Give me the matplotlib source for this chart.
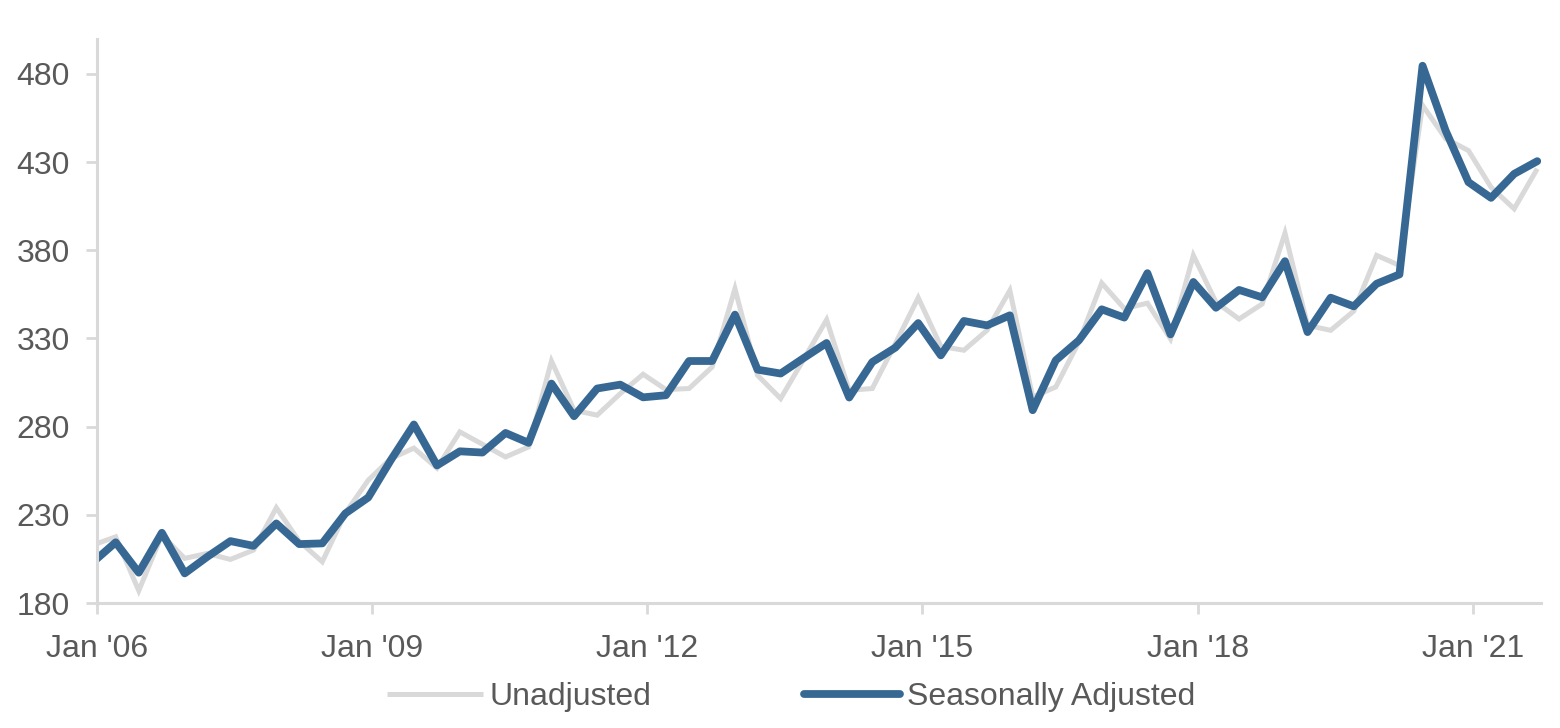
import matplotlib
matplotlib.use("Agg")
import matplotlib.pyplot as plt
import pandas as pd

plt.rcParams['font.family'] = ['Liberation Sans Narrow', 'Liberation Sans', 'DejaVu Sans']

# Quarterly observations (mid-month of the last month of each quarter), Dec 2005 .. Sep 2021
dates = pd.date_range('2005-12-01', periods=64, freq='3MS') + pd.Timedelta(days=14)

unadjusted = [
    212.9, 217.5, 187.0, 218.5, 205.3, 208.1, 204.7, 210.0, 234.0, 215.0,
    203.4, 231.0, 249.6, 261.9, 267.8, 256.5, 277.0, 270.0, 262.8, 268.5,
    317.2, 289.3, 286.5, 298.7, 309.7, 301.0, 301.6, 313.8, 358.2, 309.1,
    295.9, 318.2, 340.6, 300.6, 301.6, 327.1, 353.1, 325.5, 323.3, 334.6,
    357.2, 296.8, 302.5, 328.0, 361.4, 346.9, 350.0, 329.8, 377.1, 350.6,
    341.0, 349.5, 389.7, 337.4, 334.6, 345.5, 377.1, 371.4, 462.2, 443.3,
    436.5, 415.7, 403.5, 426.2,
]
seasonally_adjusted = [
    203.2, 214.4, 197.2, 219.8, 196.8, 206.2, 215.1, 212.4, 225.1, 213.4,
    213.8, 230.8, 239.8, 261.0, 281.2, 258.0, 266.0, 265.3, 276.4, 270.8,
    304.4, 285.9, 301.6, 303.8, 296.6, 297.8, 317.2, 317.2, 343.5, 312.3,
    310.1, 318.9, 327.4, 296.5, 316.6, 324.8, 338.7, 320.4, 339.9, 337.4,
    343.1, 289.3, 317.6, 328.9, 346.5, 341.8, 367.0, 332.3, 362.0, 347.4,
    357.5, 353.3, 373.8, 333.6, 353.1, 348.2, 361.0, 366.3, 484.6, 447.8,
    418.6, 409.7, 423.3, 430.5,
]
series_labels = ['Unadjusted', 'Seasonally Adjusted']
y_ticks = [180, 230, 280, 330, 380, 430, 480]
x_tick_years = [2006, 2009, 2012, 2015, 2018, 2021]

text_color = '#595959'
axis_color = '#d9d9d9'
gray = '#d9d9d9'
blue = '#376893'

fig = plt.figure(figsize=(15.6, 7.28), dpi=100)
ax = fig.add_axes([0.0624, 0.1717, 0.9256, 0.7753])

ax.plot(dates, unadjusted, color=gray, lw=3.6, label=series_labels[0],
        solid_joinstyle='miter', solid_capstyle='butt')
ax.plot(dates, seasonally_adjusted, color=blue, lw=5.6, label=series_labels[1],
        solid_joinstyle='round', solid_capstyle='round')

ax.set_xlim(pd.Timestamp('2006-01-01'), pd.Timestamp('2021-10-01'))
ax.set_ylim(180, 500)
ax.set_yticks(y_ticks)
ax.set_yticklabels([str(v) for v in y_ticks])
ax.set_xticks([pd.Timestamp(f'{y}-01-01') for y in x_tick_years])
ax.set_xticklabels([f"Jan '{str(y)[2:]}" for y in x_tick_years])

for s in ['top', 'right']:
    ax.spines[s].set_visible(False)
for s in ['left', 'bottom']:
    ax.spines[s].set_color(axis_color)
    ax.spines[s].set_linewidth(2.2)

ax.tick_params(axis='y', length=8, width=2, color=axis_color, labelsize=23,
               labelcolor=text_color, pad=12)
ax.tick_params(axis='x', length=8, width=2, color=axis_color, labelsize=23,
               labelcolor=text_color, pad=14)

fig.legend(loc='center', bbox_to_anchor=(0.507, 0.043), ncol=2, frameon=False,
           fontsize=23, labelcolor=text_color, handlelength=3.0,
           handletextpad=0.2, columnspacing=4.8)

fig.savefig('out.png', dpi=100)
